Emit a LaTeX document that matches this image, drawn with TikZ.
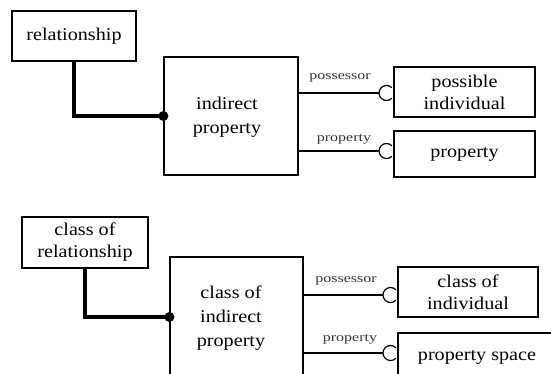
\documentclass[tikz,border=0pt]{standalone}
\usepackage{fontspec}
\setmainfont{Liberation Serif}[FakeStretch=1.12]
\newfontfamily\lblfont{Liberation Serif}[FakeStretch=1.28]
\begin{document}
\begin{tikzpicture}[x=1pt,y=-1pt,
  ent/.style={draw,line width=1.2pt,inner sep=0pt,align=center,
    font=\fontsize{18}{22}\selectfont},
  txt/.style={inner sep=0pt,align=center,font=\fontsize{18}{24}\selectfont},
  lbl/.style={inner sep=0pt,font=\lblfont\fontsize{12.5}{14}\selectfont,text=black!80},
  thickln/.style={line width=4pt},
  thinln/.style={line width=1.2pt},
  dotmark/.style={fill,circle,inner sep=0pt,minimum size=10pt}]
\useasboundingbox (0,0) rectangle (551,373);
\clip (0,0) rectangle (551,373);
\fill[white] (0,0) rectangle (551,373);

% top group
\node[ent,minimum width=124pt,minimum height=50pt] (rel) at (74,36) {relationship};
\node[ent,minimum width=134pt,minimum height=118pt] (ip) at (231,116) {};
\node[txt] (iptext) at (227,117) {indirect\\property};
\node[ent,minimum width=141pt,minimum height=50pt] (pi) at (464.5,92) {possible\\individual};
\node[ent,minimum width=141pt,minimum height=46pt] (prop) at (464.5,154) {property};

\coordinate (d1) at (ip.west);
\draw[thickln] (rel.south) |- (d1);
\node[dotmark] (dot1) at (d1) {};

\coordinate (c1) at (386.5,93);
\coordinate (c2) at (386.5,151);
\draw[thinln] (ip.east |- c1) -- ([xshift=-7.5pt]c1);
\draw[thinln] ([shift={(45:7.5)}]c1) arc (45:315:7.5);
\draw[thinln] (ip.east |- c2) -- ([xshift=-7.5pt]c2);
\draw[thinln] ([shift={(45:7.5)}]c2) arc (45:315:7.5);
\node[lbl] (l1) at (340,78) {possessor};
\node[lbl] (l2) at (344,139) {property};

% bottom group
\node[ent,minimum width=126pt,minimum height=51pt] (cor) at (85,242.5) {class of\\relationship};
\node[ent,minimum width=133pt,minimum height=143pt] (cip) at (236.5,328.5) {};
\node[txt] (ciptext) at (231,318) {class of\\indirect\\property};
\node[ent,minimum width=140pt,minimum height=50pt] (ci) at (468,292) {class of\\individual};
\node[ent,minimum width=200pt,minimum height=80pt] (ps) at (498,373) {};
\node[txt] (pstext) at (477,357) {property space};

\coordinate (d2) at (cip.west |- 0,317);
\draw[thickln] (cor.south) |- (d2);
\node[dotmark] (dot2) at (d2) {};

\coordinate (c3) at (390.5,295);
\coordinate (c4) at (390.5,353);
\draw[thinln] (cip.east |- c3) -- ([xshift=-7.5pt]c3);
\draw[thinln] ([shift={(45:7.5)}]c3) arc (45:315:7.5);
\draw[thinln] (cip.east |- c4) -- ([xshift=-7.5pt]c4);
\draw[thinln] ([shift={(45:7.5)}]c4) arc (45:315:7.5);
\node[lbl] (l3) at (346,281) {possessor};
\node[lbl] (l4) at (350,339) {property};
\end{tikzpicture}
\end{document}
